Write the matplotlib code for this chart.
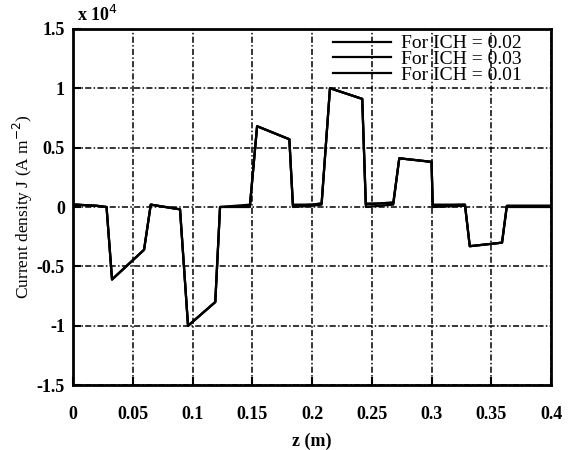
import matplotlib
matplotlib.use("Agg")
from matplotlib import pyplot as plt

# axial position (m) and current density (x 1e4 A/m^2)
z = [0.0, 0.002, 0.02, 0.028, 0.0326, 0.0594, 0.065, 0.0895, 0.0962, 0.119, 0.123,
     0.148, 0.154, 0.181, 0.184, 0.200, 0.208, 0.215, 0.242, 0.245, 0.268, 0.273,
     0.300, 0.301, 0.328, 0.332, 0.359, 0.363, 0.400]
j_ich002 = [0.0, 0.02, 0.01, 0.0, -0.61, -0.36, 0.02, -0.02, -1.0, -0.80, 0.0,
            0.02, 0.68, 0.57, 0.02, 0.02, 0.03, 1.0, 0.91, 0.03, 0.03, 0.41,
            0.38, 0.02, 0.02, -0.33, -0.30, 0.01, 0.01]
j_ich003 = [0.0, 0.02, 0.01, 0.0, -0.61, -0.36, 0.02, -0.02, -1.0, -0.80, 0.0,
            0.01, 0.68, 0.57, 0.01, 0.02, 0.03, 1.0, 0.91, 0.02, 0.04, 0.41,
            0.38, 0.01, 0.02, -0.33, -0.30, 0.01, 0.01]
j_ich001 = [0.0, 0.02, 0.01, 0.0, -0.61, -0.36, 0.02, -0.02, -1.0, -0.80, 0.0,
            0.0, 0.68, 0.57, 0.0, 0.01, 0.02, 1.0, 0.91, 0.0, 0.02, 0.41,
            0.38, 0.0, 0.01, -0.33, -0.30, 0.0, 0.0]
labels = ["For ICH = 0.02", "For ICH = 0.03", "For ICH = 0.01"]

xticks = [0, 0.05, 0.1, 0.15, 0.2, 0.25, 0.3, 0.35, 0.4]
xticklabels = ["0", "0.05", "0.1", "0.15", "0.2", "0.25", "0.3", "0.35", "0.4"]
yticks = [-1.5, -1, -0.5, 0, 0.5, 1, 1.5]
yticklabels = ["-1.5", "-1", "-0.5", "0", "0.5", "1", "1.5"]

plt.rcParams['font.family'] = ['Liberation Serif', 'DejaVu Serif']

fig = plt.figure(figsize=(5.71, 4.5), dpi=100)
ax = fig.add_axes([0.128, 0.144, 0.837, 0.792])

for series, lab in zip([j_ich002, j_ich003, j_ich001], labels):
	ax.plot(z, series, color='black', lw=1.6, label=lab)

ax.set_xlim(0, 0.4)
ax.set_ylim(-1.5, 1.5)
ax.set_xticks(xticks)
ax.set_xticklabels(xticklabels, fontsize=13, fontweight='bold')
ax.set_yticks(yticks)
ax.set_yticklabels(yticklabels, fontsize=13, fontweight='bold')
ax.tick_params(direction='in', length=6, width=1.5)
ax.tick_params(axis='x', pad=15)
ax.tick_params(axis='y', pad=6)

ax.grid(True, color='black', lw=1.1, linestyle=(0, (4, 1.5, 1, 1.5)))
ax.set_axisbelow(True)
for sp in ax.spines.values():
	sp.set_linewidth(2)

ax.set_xlabel("z (m)", fontsize=13, fontweight='bold', labelpad=7)
ax.set_ylabel("Current density J (A m$^{-2}$)", fontsize=12.5, labelpad=1)
ax.text(0.008, 1.012, "x 10$^4$", transform=ax.transAxes, fontsize=13,
        fontweight='bold', ha='left', va='bottom')

leg = ax.legend(loc='upper right', frameon=False, fontsize=14, handlelength=3.0,
                labelspacing=-0.1, handletextpad=0.5, borderaxespad=0.0,
                bbox_to_anchor=(0.955, 1.005))

fig.savefig("out.png", dpi=100)
